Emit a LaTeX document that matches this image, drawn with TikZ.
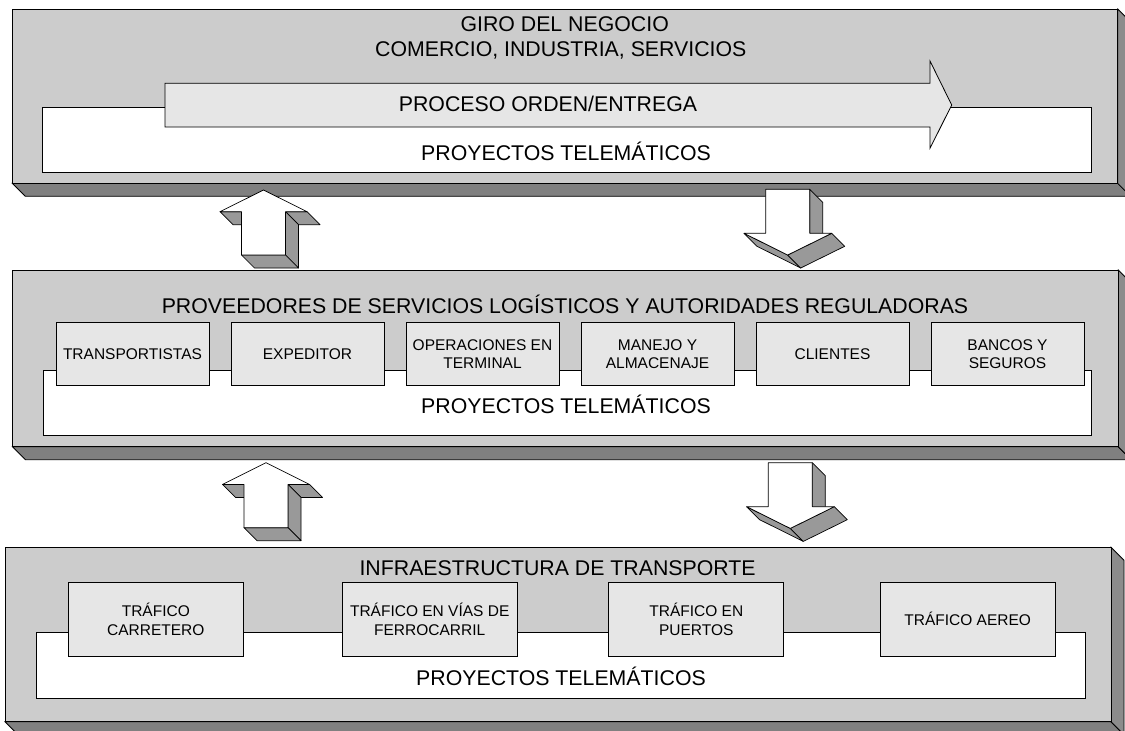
\documentclass[tikz,border=0pt]{standalone}
\usepackage{fontspec}
\setmainfont{Liberation Sans}
\definecolor{frontg}{HTML}{CCCCCC}
\definecolor{shadeg}{HTML}{808080}
\definecolor{sideg}{HTML}{8C8C8C}
\definecolor{boxg}{HTML}{E6E6E6}
\definecolor{arrg}{HTML}{999999}
\newcommand\panelbox[4]{%
  \filldraw[shadeg,draw=black,line width=0.8pt] ({#1},{#4}) -- ({#3},{#4}) -- ({#3+13},{#4+13}) -- ({#1+13},{#4+13}) -- cycle;
  \filldraw[sideg,draw=black,line width=0.8pt] ({#3},{#2}) -- ({#3+13},{#2+13}) -- ({#3+13},{#4+13}) -- ({#3},{#4}) -- cycle;
  \filldraw[frontg,draw=black,line width=0.8pt] ({#1},{#2}) rectangle ({#3},{#4});
}
\newcommand\uparrowshape[2]{%
  \begin{scope}[shift={(#1,#2)}]
    \filldraw[aface] (-43.5,21.7) -- (-22,21.7) -- (-9,34.7) -- (-30.5,34.7) -- cycle;
    \filldraw[aface] (22,21.7) -- (43.5,21.7) -- (56.5,34.7) -- (35,34.7) -- cycle;
    \filldraw[aface] (22,21.7) -- (35,34.7) -- (35,78) -- (22,65) -- cycle;
    \filldraw[aface] (-22,65) -- (22,65) -- (35,78) -- (-9,78) -- cycle;
    \filldraw[afront] (0,0) -- (43.5,21.7) -- (22,21.7) -- (22,65) -- (-22,65) -- (-22,21.7) -- (-43.5,21.7) -- cycle;
  \end{scope}}
\newcommand\downarrowshape[2]{%
  \begin{scope}[shift={(#1,#2)}]
    \filldraw[aface] (44,0) -- (57,13) -- (57,57) -- (44,44) -- cycle;
    \filldraw[aface] (-21.7,44) -- (22,65.7) -- (35,78.7) -- (-8.7,57) -- cycle;
    \filldraw[aface] (66,44) -- (22,65.7) -- (35,78.7) -- (79,57) -- cycle;
    \filldraw[afront] (0,0) -- (44,0) -- (44,44) -- (66,44) -- (22,65.7) -- (-21.7,44) -- (0,44) -- cycle;
  \end{scope}}
\begin{document}
\begin{tikzpicture}[x=1pt,y=-1pt,
  aface/.style={fill=arrg,draw=black,line width=0.7pt,line join=round},
  afront/.style={fill=white,draw=black,line width=0.7pt,line join=round},
  whitebox/.style={fill=white,draw=black,line width=0.8pt},
  bigtext/.style={font=\fontsize{21.3}{25}\selectfont,inner sep=0pt,anchor=base},
  smallbox/.style={draw=black,fill=boxg,line width=0.8pt,inner sep=0pt,align=center,font=\fontsize{15.5}{18.5}\selectfont},
  boxtwo/.style={smallbox,minimum width=153pt,minimum height=63pt},
  boxthree/.style={smallbox,minimum width=175pt,minimum height=74pt}]
\useasboundingbox (0,0) rectangle (1125,731);
\clip (0,0) rectangle (1125,731);
\fill[white] (0,0) rectangle (1125,731);

% ---------- panel 1 ----------
\panelbox{12.3}{9}{1117.7}{183.3}
\draw[whitebox] (42.3,107.3) rectangle (1091.7,172.7);
\filldraw[fill=boxg,draw=black,line width=0.8pt] (165,83.3) -- (930,83.3) -- (930,61) -- (951.7,105) -- (930,148.3) -- (930,127) -- (165,127) -- cycle;
\node[bigtext] (giro) at (564.7,31.7) {GIRO DEL NEGOCIO};
\node[bigtext] (comercio) at (560.8,56.7) {COMERCIO, INDUSTRIA, SERVICIOS};
\node[bigtext] (proceso) at (548,111.5) {PROCESO ORDEN/ENTREGA};
\node[bigtext] (proy1) at (566,160) {PROYECTOS TELEMÁTICOS};

% ---------- panel 2 ----------
\panelbox{12.5}{270}{1118.2}{446.7}
\draw[whitebox] (42.9,370) rectangle (1091.6,435);
\node[bigtext] (prov) at (565,313.5) {PROVEEDORES DE SERVICIOS LOGÍSTICOS Y AUTORIDADES REGULADORAS};
\node[boxtwo] (b1) at (132.5,354) {TRANSPORTISTAS};
\node[boxtwo] (b2) at (307.5,354) {EXPEDITOR};
\node[boxtwo] (b3) at (482.5,354) {OPERACIONES EN\\TERMINAL};
\node[boxtwo] (b4) at (657.5,354) {MANEJO Y\\ALMACENAJE};
\node[boxtwo] (b5) at (832.5,354) {CLIENTES};
\node[boxtwo] (b6) at (1007.5,354) {BANCOS Y\\SEGUROS};
\node[bigtext] (proy2) at (566,413.3) {PROYECTOS TELEMÁTICOS};

% ---------- panel 3 ----------
\panelbox{5}{547.3}{1111}{721.7}
\draw[whitebox] (36.4,632.3) rectangle (1085.4,698.3);
\node[bigtext] (infra) at (557.6,575.7) {INFRAESTRUCTURA DE TRANSPORTE};
\node[boxthree] (c1) at (155.8,619.3) {TRÁFICO\\CARRETERO};
\node[boxthree] (c2) at (429.7,619.3) {TRÁFICO EN VÍAS DE\\FERROCARRIL};
\node[boxthree] (c3) at (696.3,619.3) {TRÁFICO EN\\PUERTOS};
\node[boxthree] (c4) at (967.7,619.3) {TRÁFICO AEREO};
\node[bigtext] (proy3) at (561,685) {PROYECTOS TELEMÁTICOS};

% ---------- arrows between panels ----------
\uparrowshape{263.5}{190}
\downarrowshape{765.7}{189.3}
\uparrowshape{266}{462.7}
\downarrowshape{768.3}{462.7}
\end{tikzpicture}
\end{document}
